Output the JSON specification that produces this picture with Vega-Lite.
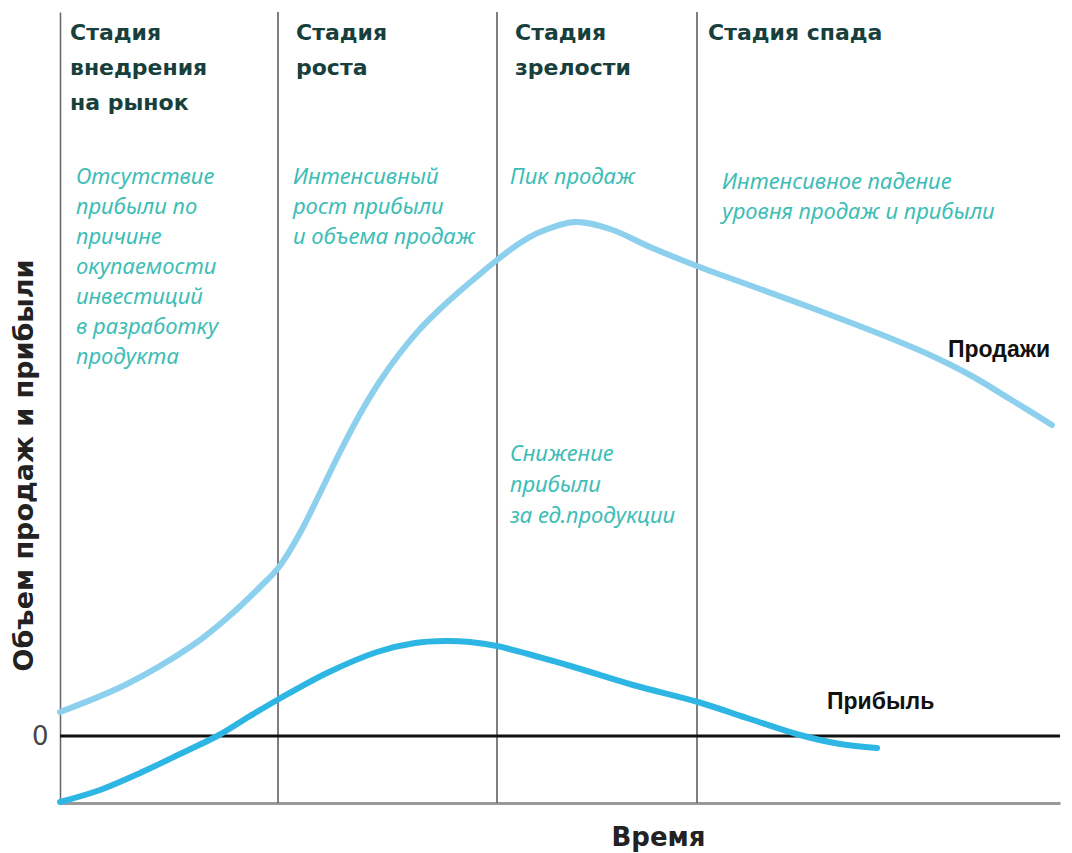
{
  "$schema": "https://vega.github.io/schema/vega-lite/v6.json",
  "width": 1000,
  "height": 791,
  "autosize": {"type": "none"},
  "padding": {"left": 60, "top": 12, "right": 12, "bottom": 50},
  "background": "white",
  "config": {"view": {"stroke": null}},
  "datasets": {
    "curves": [
      {"series": "Продажи", "t": 0, "v": 24}, {"series": "Продажи", "t": 67, "v": 52},
      {"series": "Продажи", "t": 133, "v": 91}, {"series": "Продажи", "t": 167, "v": 118},
      {"series": "Продажи", "t": 200, "v": 149}, {"series": "Продажи", "t": 219, "v": 169},
      {"series": "Продажи", "t": 240, "v": 203}, {"series": "Продажи", "t": 260, "v": 243},
      {"series": "Продажи", "t": 280, "v": 284}, {"series": "Продажи", "t": 300, "v": 322},
      {"series": "Продажи", "t": 320, "v": 355}, {"series": "Продажи", "t": 340, "v": 383},
      {"series": "Продажи", "t": 360, "v": 407}, {"series": "Продажи", "t": 380, "v": 427},
      {"series": "Продажи", "t": 400, "v": 445}, {"series": "Продажи", "t": 420, "v": 462},
      {"series": "Продажи", "t": 437, "v": 476}, {"series": "Продажи", "t": 460, "v": 493},
      {"series": "Продажи", "t": 480, "v": 504}, {"series": "Продажи", "t": 515, "v": 514},
      {"series": "Продажи", "t": 550, "v": 507}, {"series": "Продажи", "t": 590, "v": 489},
      {"series": "Продажи", "t": 637, "v": 470}, {"series": "Продажи", "t": 700, "v": 447},
      {"series": "Продажи", "t": 760, "v": 425}, {"series": "Продажи", "t": 820, "v": 402},
      {"series": "Продажи", "t": 870, "v": 381}, {"series": "Продажи", "t": 910, "v": 361},
      {"series": "Продажи", "t": 950, "v": 337}, {"series": "Продажи", "t": 992, "v": 311},
      {"series": "Прибыль", "t": 0, "v": -66}, {"series": "Прибыль", "t": 40, "v": -54},
      {"series": "Прибыль", "t": 80, "v": -37}, {"series": "Прибыль", "t": 120, "v": -18},
      {"series": "Прибыль", "t": 159, "v": 1}, {"series": "Прибыль", "t": 190, "v": 20},
      {"series": "Прибыль", "t": 219, "v": 37}, {"series": "Прибыль", "t": 267, "v": 63},
      {"series": "Прибыль", "t": 317, "v": 84}, {"series": "Прибыль", "t": 355, "v": 93},
      {"series": "Прибыль", "t": 385, "v": 95}, {"series": "Прибыль", "t": 410, "v": 94},
      {"series": "Прибыль", "t": 437, "v": 90},
      {"series": "Прибыль", "t": 507, "v": 71}, {"series": "Прибыль", "t": 573, "v": 51},
      {"series": "Прибыль", "t": 638, "v": 34}, {"series": "Прибыль", "t": 690, "v": 17},
      {"series": "Прибыль", "t": 740, "v": 1}, {"series": "Прибыль", "t": 780, "v": -8},
      {"series": "Прибыль", "t": 817, "v": -12}
    ],
    "stages": [{"t": 218}, {"t": 437}, {"t": 637}],
    "labels": [
      {"kind": "head", "t": 10, "v": 703, "text": "Стадия"},
      {"kind": "head", "t": 10, "v": 668, "text": "внедрения"},
      {"kind": "head", "t": 10, "v": 633, "text": "на рынок"},
      {"kind": "head", "t": 236, "v": 703, "text": "Стадия"},
      {"kind": "head", "t": 236, "v": 668, "text": "роста"},
      {"kind": "head", "t": 455, "v": 703, "text": "Стадия"},
      {"kind": "head", "t": 455, "v": 668, "text": "зрелости"},
      {"kind": "head", "t": 648, "v": 703, "text": "Стадия спада"},
      {"kind": "note", "t": 16, "v": 559, "text": "Отсутствие"},
      {"kind": "note", "t": 16, "v": 529, "text": "прибыли по"},
      {"kind": "note", "t": 16, "v": 499, "text": "причине"},
      {"kind": "note", "t": 16, "v": 469, "text": "окупаемости"},
      {"kind": "note", "t": 16, "v": 439, "text": "инвестиций"},
      {"kind": "note", "t": 16, "v": 409, "text": "в разработку"},
      {"kind": "note", "t": 16, "v": 379, "text": "продукта"},
      {"kind": "note", "t": 233, "v": 559, "text": "Интенсивный"},
      {"kind": "note", "t": 233, "v": 529, "text": "рост прибыли"},
      {"kind": "note", "t": 233, "v": 499, "text": "и объема продаж"},
      {"kind": "note", "t": 450, "v": 559, "text": "Пик продаж"},
      {"kind": "note", "t": 662, "v": 554, "text": "Интенсивное падение"},
      {"kind": "note", "t": 662, "v": 524, "text": "уровня продаж и прибыли"},
      {"kind": "note", "t": 450, "v": 282, "text": "Снижение"},
      {"kind": "note", "t": 450, "v": 251, "text": "прибыли"},
      {"kind": "note", "t": 450, "v": 220, "text": "за ед.продукции"},
      {"kind": "series", "t": 888, "v": 386, "text": "Продажи"},
      {"kind": "series", "t": 767, "v": 34, "text": "Прибыль"}
    ]
  },
  "encoding": {
    "x": {
      "field": "t", "type": "quantitative",
      "scale": {"domain": [0, 1000], "nice": false, "zero": false},
      "axis": {
        "title": "Время", "labels": false, "ticks": false, "grid": false,
        "domainColor": "#9a9a9a", "domainWidth": 3,
        "titleFont": "DejaVu Sans", "titleFontSize": 26, "titleFontWeight": "bold",
        "titleColor": "#222222", "titleX": 598, "titleY": 42, "titleBaseline": "alphabetic"
      }
    },
    "y": {
      "field": "v", "type": "quantitative",
      "scale": {"domain": [-67, 724], "nice": false, "zero": false},
      "axis": {
        "title": "Объем продаж и прибыли", "values": [0], "ticks": false, "grid": false,
        "domainColor": "#666666", "domainWidth": 1.5,
        "labelFont": "DejaVu Sans", "labelFontSize": 26, "labelColor": "#444444", "labelPadding": 12,
        "titleFont": "DejaVu Sans", "titleFontSize": 27, "titleFontWeight": "bold",
        "titleColor": "#222222", "titleX": -28, "titleY": 453, "titleBaseline": "alphabetic"
      }
    }
  },
  "layer": [
    {
      "data": {"name": "stages"},
      "mark": {"type": "rule", "color": "#555555", "strokeWidth": 1.5},
      "encoding": {"x": {"field": "t", "type": "quantitative"}, "y": null}
    },
    {
      "data": {"values": [{"v": 0}]},
      "mark": {"type": "rule", "color": "#111111", "strokeWidth": 3},
      "encoding": {"y": {"field": "v", "type": "quantitative"}, "x": null}
    },
    {
      "data": {"name": "curves"},
      "transform": [{"filter": "datum.series === 'Продажи'"}],
      "mark": {"type": "line", "interpolate": "catmull-rom", "color": "#8dd0ee", "strokeWidth": 6, "strokeCap": "round"}
    },
    {
      "data": {"name": "curves"},
      "transform": [{"filter": "datum.series === 'Прибыль'"}],
      "mark": {"type": "line", "interpolate": "catmull-rom", "color": "#2db6e3", "strokeWidth": 6, "strokeCap": "round"}
    },
    {
      "data": {"name": "labels"},
      "transform": [{"filter": "datum.kind === 'head'"}],
      "mark": {"type": "text", "align": "left", "baseline": "middle", "font": "DejaVu Sans", "fontSize": 22, "fontWeight": "bold", "color": "#17403d"},
      "encoding": {"text": {"field": "text"}}
    },
    {
      "data": {"name": "labels"},
      "transform": [{"filter": "datum.kind === 'note'"}],
      "mark": {"type": "text", "align": "left", "baseline": "middle", "font": "Noto Sans", "fontSize": 22, "fontStyle": "italic", "color": "#3dbdb6"},
      "encoding": {"text": {"field": "text"}}
    },
    {
      "data": {"name": "labels"},
      "transform": [{"filter": "datum.kind === 'series'"}],
      "mark": {"type": "text", "align": "left", "baseline": "middle", "font": "Liberation Sans", "fontSize": 23, "fontWeight": "bold", "color": "#111111"},
      "encoding": {"text": {"field": "text"}}
    }
  ]
}
